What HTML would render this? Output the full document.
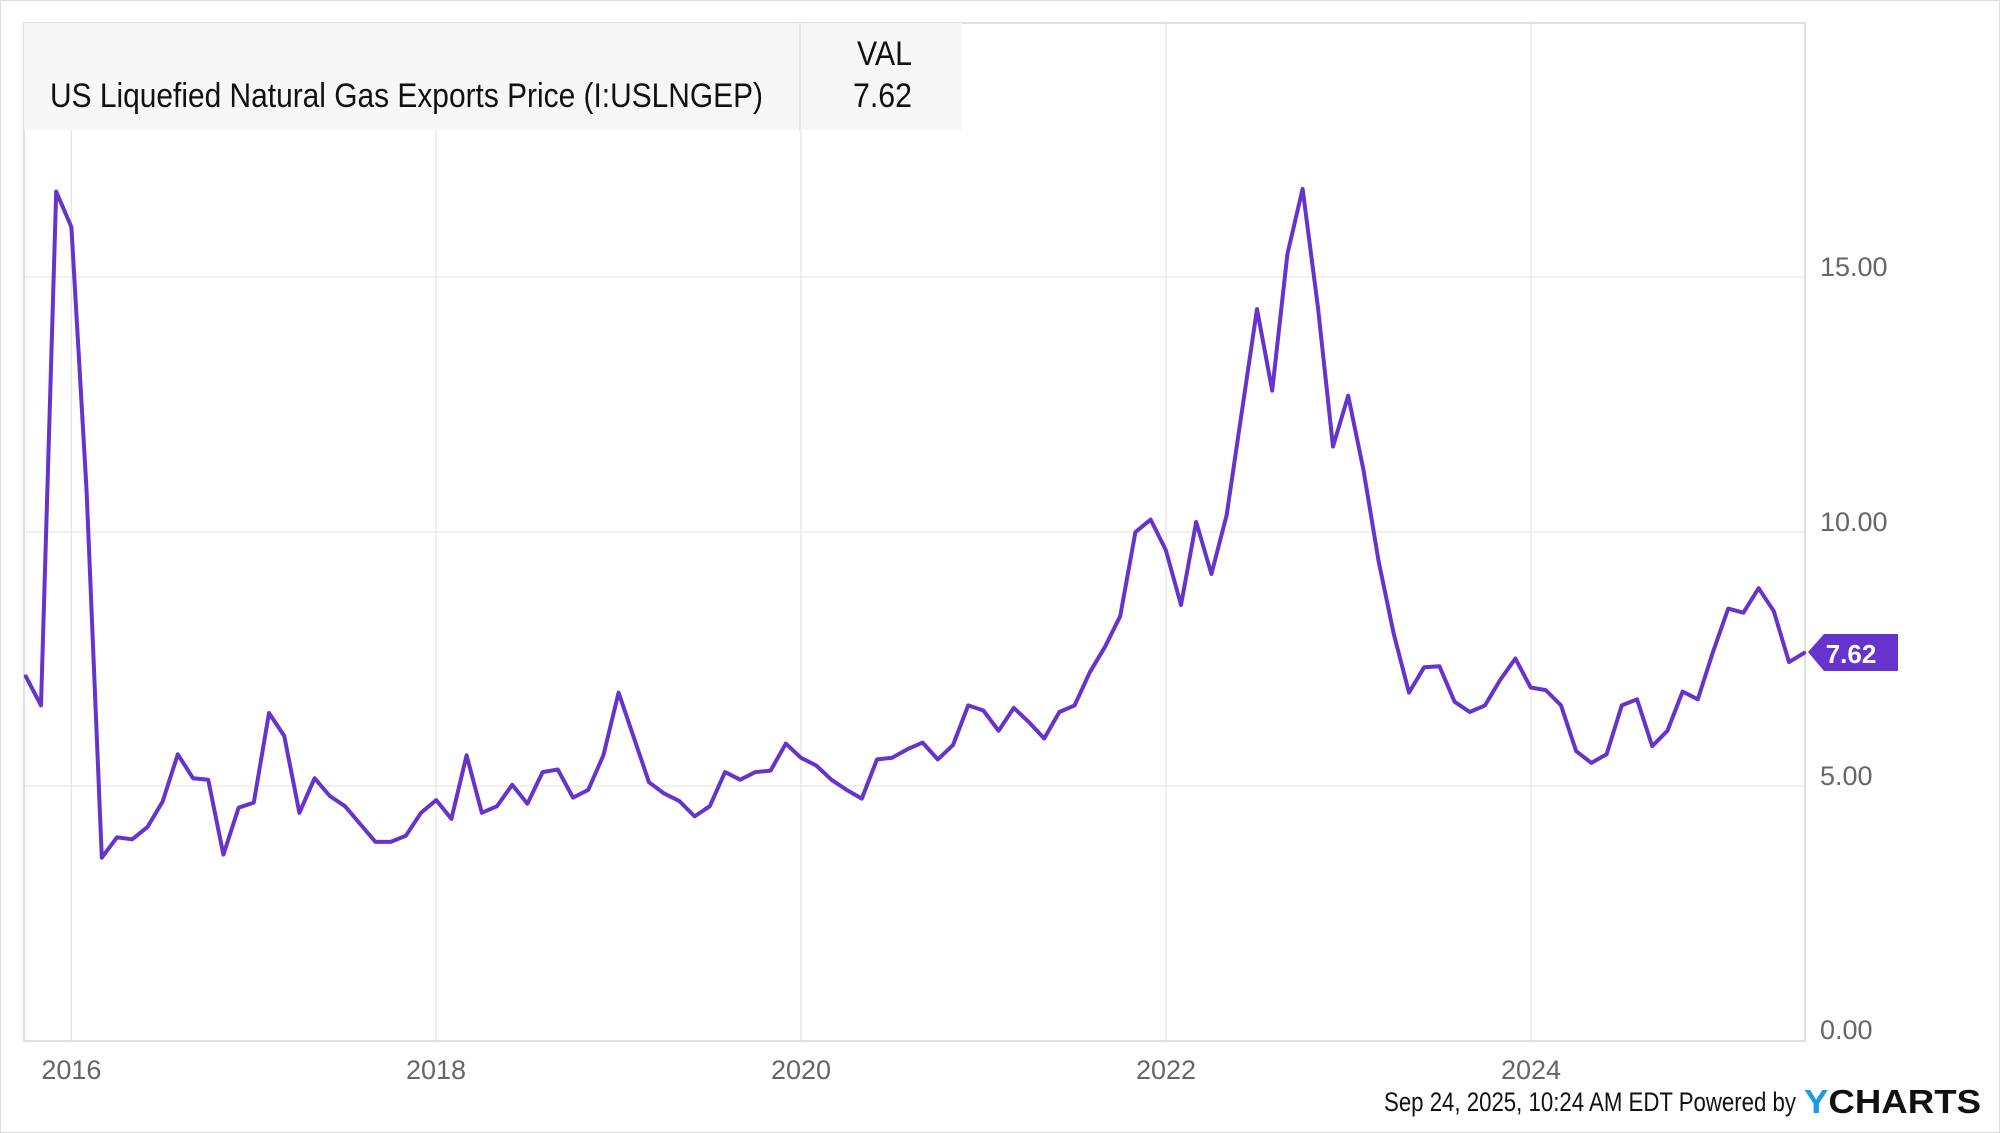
<!DOCTYPE html>
<html><head><meta charset="utf-8"><style>
html,body{margin:0;padding:0;background:#fff}
svg{display:block}
text{font-family:"Liberation Sans",sans-serif}
</style></head><body>
<svg id="s" width="2000" height="1133" viewBox="0 0 2000 1133" xmlns="http://www.w3.org/2000/svg">
<rect x="0.5" y="0.5" width="1999" height="1132" fill="#fff" stroke="#ddd"/>
<g stroke="#e6e6e6" stroke-width="1.3">
<line x1="71.4" y1="23" x2="71.4" y2="1041"/>
<line x1="436" y1="23" x2="436" y2="1041"/>
<line x1="801" y1="23" x2="801" y2="1041"/>
<line x1="1166" y1="23" x2="1166" y2="1041"/>
<line x1="1531" y1="23" x2="1531" y2="1041"/>
<line x1="24" y1="277" x2="1805" y2="277"/>
<line x1="24" y1="532" x2="1805" y2="532"/>
<line x1="24" y1="786" x2="1805" y2="786"/>
</g>
<rect x="24" y="23" width="1781" height="1018" fill="none" stroke="#d6d6d6" stroke-width="1.5"/>
<rect x="24" y="23" width="938" height="107" fill="#f7f7f7"/>
<line x1="800" y1="23" x2="800" y2="130" stroke="#e0e0e0" stroke-width="1.3"/>
<text x="50" y="107" font-size="34" fill="#111" textLength="713" lengthAdjust="spacingAndGlyphs">US Liquefied Natural Gas Exports Price (I:USLNGEP)</text>
<text x="912" y="65" font-size="34" fill="#111" text-anchor="end" textLength="55" lengthAdjust="spacingAndGlyphs">VAL</text>
<text x="912" y="107" font-size="34" fill="#111" text-anchor="end" textLength="59" lengthAdjust="spacingAndGlyphs">7.62</text>
<polyline id="ln" fill="none" stroke="#6633cc" stroke-width="4" stroke-linejoin="round" stroke-linecap="round"/>
<g font-size="27" fill="#666">
<text x="1820" y="276">15.00</text>
<text x="1820" y="531">10.00</text>
<text x="1820" y="785">5.00</text>
<text x="1820" y="1039">0.00</text>
<g text-anchor="middle">
<text x="71.4" y="1079">2016</text>
<text x="436" y="1079">2018</text>
<text x="801" y="1079">2020</text>
<text x="1166" y="1079">2022</text>
<text x="1531" y="1079">2024</text>
</g></g>
<polygon points="1808,652 1824,634 1898,634 1898,671 1824,671" fill="#6633cc"/>
<text x="1851" y="663" font-size="26" font-weight="bold" fill="#fff" text-anchor="middle">7.62</text>
<text x="1384" y="1111" font-size="27" fill="#111" textLength="412" lengthAdjust="spacingAndGlyphs">Sep 24, 2025, 10:24 AM EDT Powered by</text>
<text x="1804" y="1113" font-size="33" font-weight="bold" fill="#111" textLength="177" lengthAdjust="spacingAndGlyphs"><tspan fill="#1a9be8">Y</tspan>CHARTS</text>
</svg>
<script>
var v=[7.16,6.59,16.68,15.98,10.8,3.6,4.0,3.96,4.2,4.7,5.63,5.16,5.13,3.66,4.58,4.68,6.44,5.99,4.48,5.16,4.81,4.61,4.26,3.91,3.91,4.03,4.48,4.73,4.36,5.61,4.48,4.61,5.03,4.66,5.28,5.33,4.78,4.93,5.61,6.84,5.96,5.08,4.86,4.71,4.41,4.61,5.28,5.13,5.28,5.31,5.84,5.56,5.41,5.13,4.93,4.76,5.53,5.56,5.73,5.86,5.53,5.81,6.59,6.49,6.09,6.54,6.26,5.94,6.46,6.59,7.24,7.74,8.34,9.99,10.24,9.64,8.56,10.19,9.17,10.32,12.35,14.37,12.77,15.45,16.73,14.43,11.67,12.67,11.22,9.42,7.99,6.84,7.34,7.36,6.66,6.46,6.59,7.09,7.51,6.94,6.89,6.59,5.69,5.46,5.63,6.59,6.71,5.79,6.09,6.86,6.71,7.64,8.49,8.41,8.89,8.44,7.44,7.62];
var p=[];for(var i=0;i<v.length;i++){var x=71.4+(i-3)*15.2;var y=1041-v[i]*50.93;p.push(x.toFixed(1)+","+y.toFixed(1));}
document.getElementById("ln").setAttribute("points",p.join(" "));
</script>
</body></html>
